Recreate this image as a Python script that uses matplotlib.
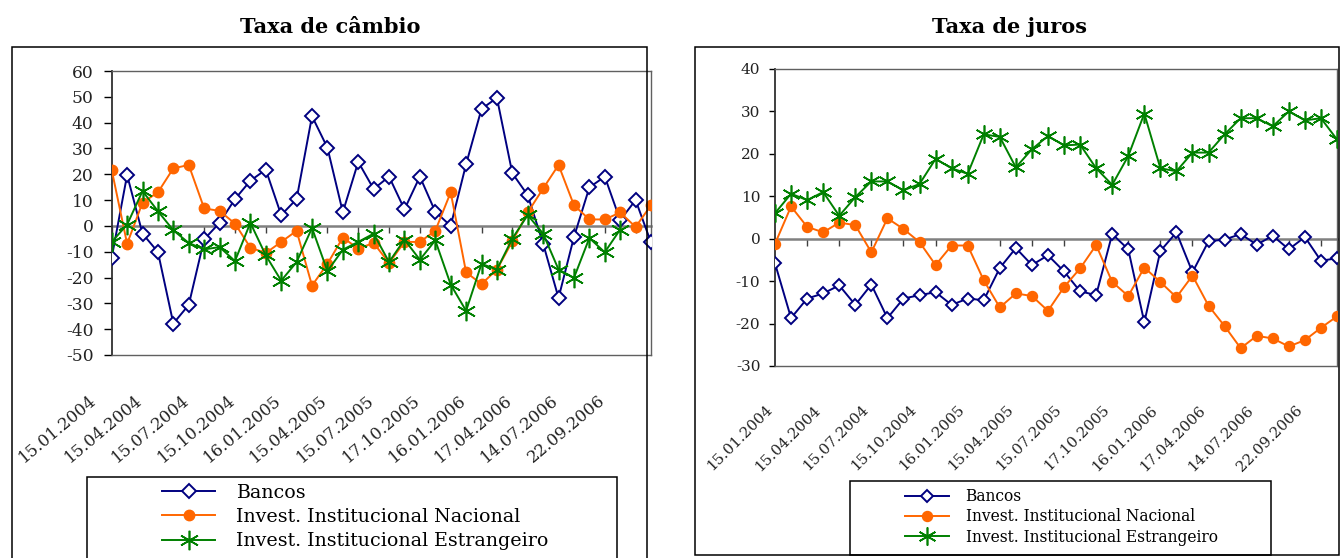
import numpy as np
import matplotlib
matplotlib.use("Agg")
import matplotlib.pyplot as plt
import matplotlib.transforms as mtransforms
from matplotlib.patches import Rectangle

plt.rcParams['font.family'] = ['DejaVu Serif']
plt.rcParams['axes.unicode_minus'] = False

# rotulos do eixo x (um a cada 3 observacoes)
datas = ["15.01.2004", "15.04.2004", "15.07.2004", "15.10.2004", "16.01.2005", "15.04.2005",
         "15.07.2005", "17.10.2005", "16.01.2006", "17.04.2006", "14.07.2006", "22.09.2006"]
pos_datas = list(range(0, 36, 3))

nomes = ["Bancos", "Invest. Institucional Nacional", "Invest. Institucional Estrangeiro"]

# Taxa de cambio
cambio_bancos = [-12.3, 19.7, -3.0, -10.1, -37.8, -30.6, -5.2, 1.2, 10.4, 17.5, 21.8, 4.2,
                 10.4, 42.5, 30.3, 5.3, 24.8, 14.3, 19.1, 6.4, 19.1, 5.5, 0.0, 23.9,
                 45.3, 49.6, 20.4, 11.9, -6.9, -27.9, -4.3, 14.9, 19.1, 2.2, 10.0, -6.4]
cambio_nacional = [21.7, -6.9, 9.0, 13.0, 22.3, 23.6, 6.8, 5.8, 0.9, -8.4, -10.5, -6.2,
                   -1.9, -23.1, -14.7, -4.5, -8.8, -6.6, -14.4, -6.2, -6.2, -1.9, 13.0, -18.0,
                   -22.5, -16.9, -6.0, 5.2, 14.5, 23.6, 8.0, 2.5, 2.5, 5.2, -0.4, 8.0]
cambio_estrangeiro = [-6.2, 0.5, 13.5, 5.7, -1.7, -6.6, -9.1, -8.2, -13.6, 1.2, -11.4, -21.2,
                      -14.0, -0.8, -17.5, -9.2, -6.2, -3.0, -14.0, -5.3, -13.1, -5.6, -22.7, -32.9,
                      -14.7, -16.9, -4.9, 4.2, -3.0, -16.9, -20.1, -4.7, -10.2, -1.4, np.nan, np.nan]

# Taxa de juros
juros_bancos = [-5.8, -18.7, -14.1, -12.9, -11.0, -15.6, -10.8, -18.7, -14.1, -13.3, -12.6, -15.6,
                -14.1, -14.5, -6.9, -2.2, -6.2, -3.9, -7.7, -12.4, -13.3, 1.1, -2.5, -19.7,
                -2.9, 1.5, -7.9, -0.6, -0.2, 1.1, -1.4, 0.7, -2.5, 0.4, -5.2, -4.6]
juros_nacional = [-1.2, 7.6, 2.8, 1.5, 3.8, 3.2, -3.2, 4.8, 2.3, -0.8, -6.2, -1.6,
                  -1.6, -9.8, -16.2, -12.9, -13.5, -17.0, -11.4, -7.0, -1.5, -10.2, -13.5, -6.8,
                  -10.2, -13.8, -8.7, -15.8, -20.6, -25.8, -22.9, -23.5, -25.4, -23.9, -21.0, -18.3]
juros_estrangeiro = [6.0, 10.6, 9.1, 11.0, 5.4, 9.8, 13.5, 13.5, 11.4, 12.9, 18.8, 16.6,
                     15.3, 24.6, 24.0, 16.8, 21.1, 24.2, 22.0, 22.2, 16.6, 12.7, 19.5, 29.5,
                     16.6, 15.9, 20.3, 20.3, 24.6, 28.4, 28.4, 26.5, 30.0, 27.9, 28.4, 23.4]

W, H = 1341, 558
fig = plt.figure(figsize=(W / 100, H / 100), dpi=100)


def px(x0, y0, x1, y1):
    # caixa em pixels -> fracoes da figura
    return [x0 / W, 1 - y1 / H, (x1 - x0) / W, (y1 - y0) / H]


def painel(caixa, series, ylim, passo, c):
    ax = fig.add_axes(caixa)
    x = np.arange(len(series[0]))
    estilos = [
        dict(color="#000080", marker="D", markersize=c["ms_d"], markerfacecolor="white",
             markeredgewidth=1.4),
        dict(color="#FF6600", marker="o", markersize=c["ms_o"]),
        dict(color="#008000", marker=(6, 2, 0), markersize=c["ms_s"], markeredgewidth=1.2),
    ]
    for valores, nome, est in zip(series, nomes, estilos):
        ax.plot(x, valores, label=nome, linewidth=1.4, zorder=3, **est)

    ax.set_xlim(0, len(x) - 1)
    ax.set_ylim(*ylim)
    ax.set_yticks(np.arange(ylim[0], ylim[1] + 1, passo))
    ax.tick_params(axis="y", direction="out", length=c["ylen"], width=1, pad=c["ypad"],
                   labelsize=c["ysize"], labelcolor="#222222")

    # rotulos de data na borda inferior
    ax.set_xticks(pos_datas)
    ax.set_xticklabels(datas, rotation=c["rot"], ha="right", va="top")
    ax.tick_params(axis="x", length=0, pad=c["xpad"], labelsize=c["xsize"], labelcolor="#222222")
    desloc = mtransforms.ScaledTranslation(c["dx"] / 100, 0, fig.dpi_scale_trans)
    for lab in ax.xaxis.get_majorticklabels():
        lab.set_transform(lab.get_transform() + desloc)

    for lado in ["top", "right", "bottom"]:
        ax.spines[lado].set_color("#606060")
        ax.spines[lado].set_linewidth(1)
    ax.spines["left"].set_color("#303030")
    ax.spines["left"].set_linewidth(1.3)

    # eixo de categorias sobre o zero
    eixo0 = ax.secondary_xaxis(0, transform=ax.transData)
    eixo0.set_xticks(np.arange(0, len(x), 2))
    eixo0.tick_params(axis="x", direction="out", length=5, width=1, color="#404040",
                      labelbottom=False)
    eixo0.spines["bottom"].set_color("#808080")
    eixo0.spines["bottom"].set_linewidth(1.8)
    return ax


cfg_cambio = dict(ms_d=7, ms_o=7.5, ms_s=14, ylen=6, ypad=7, ysize=12.3, rot=40,
                  xpad=26.5, xsize=12, dx=-12)
cfg_juros = dict(ms_d=6.5, ms_o=7.2, ms_s=13, ylen=4.5, ypad=6, ysize=11, rot=45,
                 xpad=26.5, xsize=10.8, dx=0)

ax1 = painel(px(111.7, 71, 651, 355), [cambio_bancos, cambio_nacional, cambio_estrangeiro],
             (-50, 60), 10, cfg_cambio)
ax2 = painel(px(775, 69, 1337, 366), [juros_bancos, juros_nacional, juros_estrangeiro],
             (-30, 40), 10, cfg_juros)

# titulos
fig.text(330 / W, 1 - 33 / H, "Taxa de câmbio", ha="center", va="baseline",
         fontsize=15, fontweight="bold")
fig.text(1010 / W, 1 - 33 / H, "Taxa de juros", ha="center", va="baseline",
         fontsize=15, fontweight="bold")

# molduras dos graficos e das legendas
for caixa in [px(12, 47, 647, 600), px(695, 47, 1339, 555),
              px(87, 477, 617, 600), px(850, 481, 1271, 555)]:
    fig.add_artist(Rectangle((caixa[0], caixa[1]), caixa[2], caixa[3],
                             transform=fig.transFigure, fill=False, edgecolor="black",
                             linewidth=1.1))

ax1.legend(loc="upper left", bbox_to_anchor=(162 / W, 1 - 484 / H), bbox_transform=fig.transFigure,
           frameon=False, fontsize=13.7, handlelength=2.8, handletextpad=1.1,
           labelspacing=0.32, borderpad=0, borderaxespad=0)
ax2.legend(loc="upper left", bbox_to_anchor=(905 / W, 1 - 488 / H), bbox_transform=fig.transFigure,
           frameon=False, fontsize=11.2, handlelength=2.8, handletextpad=1.1,
           labelspacing=0.22, borderpad=0, borderaxespad=0)

fig.savefig("out.png", dpi=100)
